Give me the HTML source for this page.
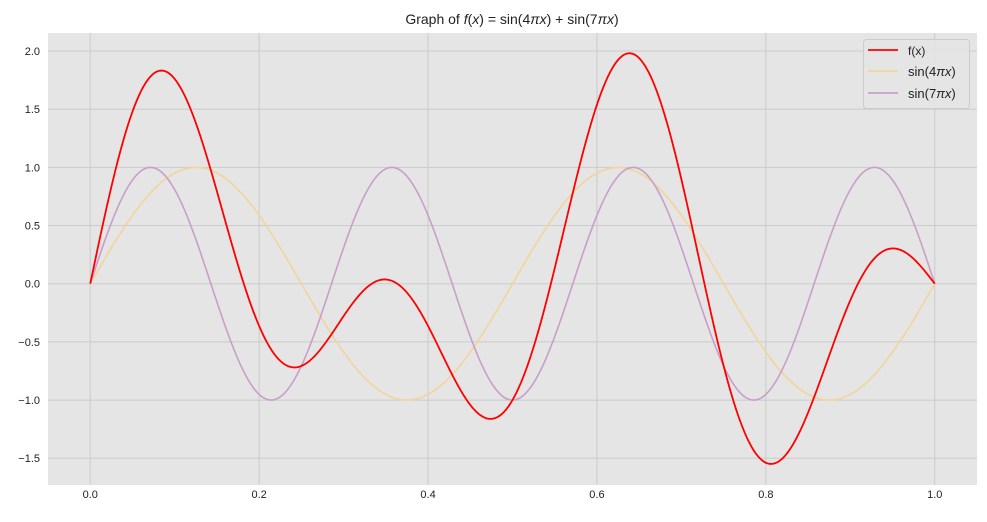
<!DOCTYPE html>
<html><head><meta charset="utf-8"><style>
body{margin:0;background:#fff;width:987px;height:517px;overflow:hidden}
svg text{font-family:"Liberation Sans","DejaVu Sans",sans-serif;fill:#222}
</style></head><body>
<svg id="chart" width="987" height="517">
<rect x="48" y="33" width="929" height="452" fill="#e5e5e5"/>
<g id="grid"></g><g id="series"></g><g id="ticks"></g>
<text x="512" y="24" text-anchor="middle" font-size="14">Graph of <tspan font-style="italic">f</tspan>(<tspan font-style="italic">x</tspan>) = sin(4<tspan font-style="italic">πx</tspan>) + sin(7<tspan font-style="italic">πx</tspan>)</text>
<g>
<rect x="863.5" y="39.5" width="106" height="69" rx="3" fill="#e5e5e5" fill-opacity="0.85" stroke="#cccccc"/>
<line x1="868" y1="50" x2="898" y2="50" stroke="#ff0000" stroke-width="1.8"/>
<text x="908" y="55" font-size="12">f(x)</text>
<line x1="868" y1="71" x2="898" y2="71" stroke="#f3d49a" stroke-width="1.8"/>
<text x="908" y="76" font-size="13">sin(4<tspan font-style="italic">πx</tspan>)</text>
<line x1="868" y1="93" x2="898" y2="93" stroke="#c79fca" stroke-width="1.8"/>
<text x="908" y="98" font-size="13">sin(7<tspan font-style="italic">πx</tspan>)</text>
</g>
</svg>
<script>
const xTicks=[0,0.2,0.4,0.6,0.8,1.0];
const xTickLabels=["0.0","0.2","0.4","0.6","0.8","1.0"];
const yTicks=[-1.5,-1.0,-0.5,0,0.5,1.0,1.5,2.0];
const yTickLabels=["−1.5","−1.0","−0.5","0.0","0.5","1.0","1.5","2.0"];
const frequencies=[4,7];
const sampleCount=400;
const X0=-0.05,X1=1.05,Y0=-1.73,Y1=2.155;
const L=48,R=977,T=33,B=485;
const sx=v=>L+(v-X0)/(X1-X0)*(R-L);
const sy=v=>B-(v-Y0)/(Y1-Y0)*(B-T);
const NS="http://www.w3.org/2000/svg";
function mk(tag,attrs,parent){const e=document.createElementNS(NS,tag);for(const k in attrs)e.setAttribute(k,attrs[k]);parent.appendChild(e);return e;}
const grid=document.getElementById('grid'),ticks=document.getElementById('ticks'),series=document.getElementById('series');
xTicks.forEach((v,i)=>{
 const g=mk('line',{x1:sx(v),x2:sx(v),y1:T,y2:B,stroke:'#cbcbcb','stroke-width':1},grid);
 
 
 const t=mk('text',{x:sx(v),y:B+13,'text-anchor':'middle','font-size':11},ticks);t.textContent=xTickLabels[i];
 
 
});
yTicks.forEach((v,i)=>{
 const g=mk('line',{x1:L,x2:R,y1:sy(v),y2:sy(v),stroke:'#cbcbcb','stroke-width':1},grid);
 
 
 const t=mk('text',{x:L-8,y:sy(v)+4,'text-anchor':'end','font-size':11},ticks);t.textContent=yTickLabels[i];
 
 
});
const xs=[];for(let i=0;i<=sampleCount;i++)xs.push(i/sampleCount);
const comp=frequencies.map(f=>xs.map(x=>Math.sin(f*Math.PI*x)));
const total=xs.map((x,i)=>comp.reduce((s,c)=>s+c[i],0));
function path(ys,color,w,name){
 const d=xs.map((x,i)=>(i?'L':'M')+sx(x).toFixed(2)+','+sy(ys[i]).toFixed(2)).join('');
 const p=mk('path',{d:d,fill:'none',stroke:color,'stroke-width':w},series);
 
 
}
path(comp[0],'#f3d49a',1.6,'sin4-line');
path(comp[1],'#c79fca',1.6,'sin7-line');
path(total,'#ff0000',1.8,'fx-line');
</script>
</body></html>
